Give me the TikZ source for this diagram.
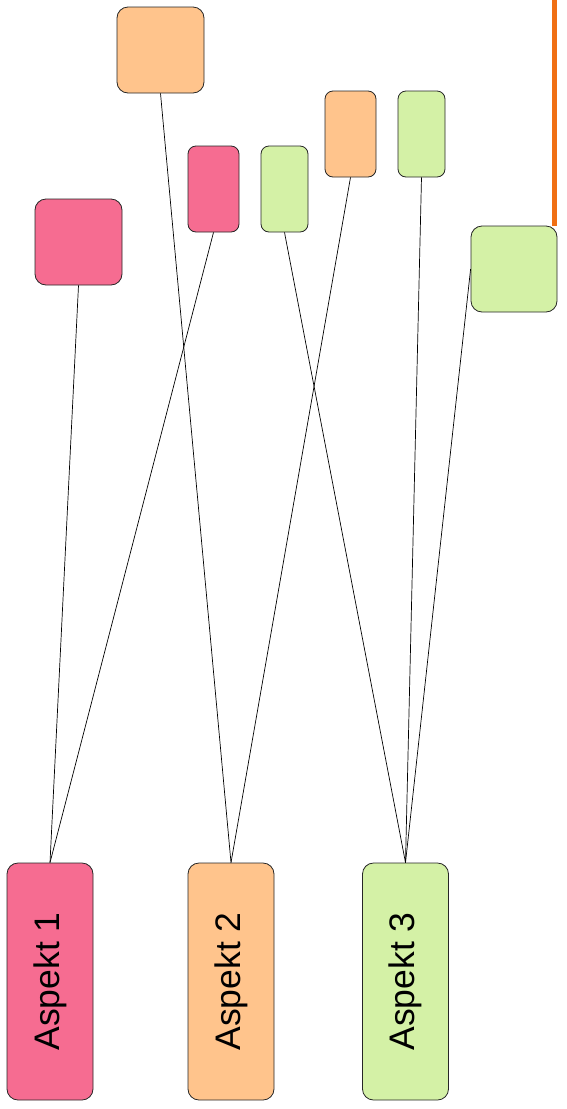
\documentclass[tikz,border=0pt]{standalone}
\usepackage{fontspec}
\setmainfont{Liberation Sans}
\definecolor{aspink}{RGB}{246,108,145}
\definecolor{asorange}{RGB}{255,196,140}
\definecolor{asgreen}{RGB}{212,241,166}
\definecolor{barorange}{RGB}{240,112,20}
\usetikzlibrary{positioning}

\begin{document}
\begin{tikzpicture}[x=1pt,y=-1pt,
  itembox/.style={draw=black!85,line width=0.8pt,rounded corners=11pt,
               inner sep=0pt,minimum height=86pt},
  aspbox/.style={itembox,minimum width=86pt,minimum height=237pt,
               font=\fontsize{35.5}{40}\selectfont},
  link/.style={black,line width=0.7pt}]

  \useasboundingbox (0,0) rectangle (566,1109);

  \node[itembox,fill=asorange,minimum width=87pt] (O1) at (160.5,50)  {};
  \node[itembox,fill=aspink,minimum width=87pt]   (P1) at (78.5,242)  {};
  \node[itembox,fill=aspink,minimum width=51pt,rounded corners=8pt]   (P2) at (213.5,189) {};
  \node[itembox,fill=asgreen,minimum width=47pt,rounded corners=8pt]  (G1) at (284.5,189) {};
  \node[itembox,fill=asorange,minimum width=51pt,rounded corners=8pt] (O2) at (350.5,134) {};
  \node[itembox,fill=asgreen,minimum width=47pt,rounded corners=8pt]  (G2) at (421.5,134) {};
  \node[itembox,fill=asgreen,minimum width=86pt]  (G3) at (514,269)   {};

  \node[aspbox,fill=aspink]   (A1) at (50,981.5)    {\rotatebox{90}{Aspekt 1}};
  \node[aspbox,fill=asorange] (A2) at (231,981.5)   {\rotatebox{90}{Aspekt 2}};
  \node[aspbox,fill=asgreen]  (A3) at (405.5,981.5) {\rotatebox{90}{Aspekt 3}};

  \draw[link] (A1.north) -- (P1.south);
  \draw[link] (A1.north) -- (P2.south);
  \draw[link] (A2.north) -- (O1.south);
  \draw[link] (A2.north) -- (O2.south);
  \draw[link] (A3.north) -- (G1.south);
  \draw[link] (A3.north) -- (G2.south);
  \draw[link] (A3.north) -- (G3.west);

  \coordinate (bartop) at (554,0);
  \draw[barorange,line width=5pt] (bartop) -- (bartop |- G3.north);
\end{tikzpicture}
\end{document}
